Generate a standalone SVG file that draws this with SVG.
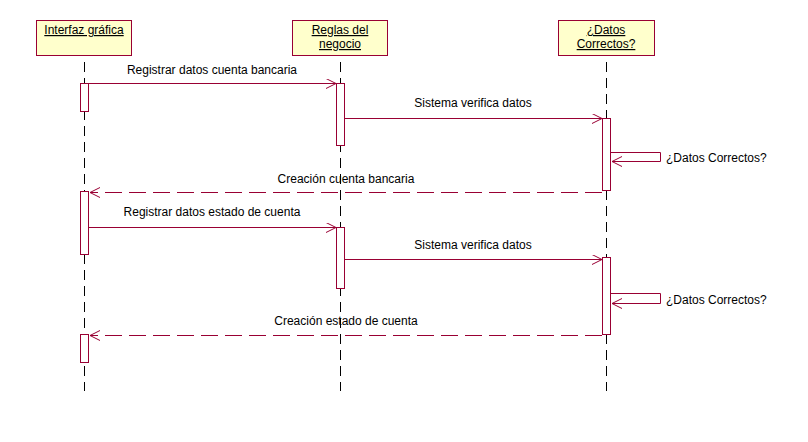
<svg xmlns="http://www.w3.org/2000/svg" width="808" height="442" viewBox="0 0 808 442">
<style>
  .box{fill:#FFFFCC;stroke:#990033;stroke-width:1}
  .title{font-family:"Liberation Sans",Arial,sans-serif;font-size:12px;fill:#000;text-anchor:middle;text-decoration:underline}
  .life{stroke:#000;stroke-width:1;stroke-dasharray:10 6;fill:none}
  .act{fill:#fff;stroke:#990033;stroke-width:1}
  .msg{stroke:#990033;stroke-width:1;fill:none}
  .ret{stroke:#990033;stroke-width:1;fill:none;stroke-dasharray:17 7}
  .lbl{font-family:"Liberation Sans",Arial,sans-serif;font-size:12px;fill:#000}
  .mid{text-anchor:middle}
</style>
<defs>
  <marker id="arr" markerWidth="12" markerHeight="12" refX="10" refY="5" orient="auto" markerUnits="userSpaceOnUse">
    <path d="M0,0 L10,5 L0,10" fill="none" stroke="#990033" stroke-width="1"/>
  </marker>
</defs>
<rect width="808" height="442" fill="#fff"/>

<g id="lifelines">
  <line class="life" x1="84.5" y1="62" x2="84.5" y2="391"/>
  <line class="life" x1="340.5" y1="62" x2="340.5" y2="391"/>
  <line class="life" x1="606.5" y1="62" x2="606.5" y2="391"/>
</g>

<g id="interfaz">
  <rect class="box" x="36.5" y="20.5" width="95" height="35"/>
  <text class="title" x="84" y="34">Interfaz gráfica</text>
</g>
<g id="reglas">
  <rect class="box" x="292.5" y="20.5" width="95" height="35"/>
  <text class="title" x="340" y="34">Reglas del</text>
  <text class="title" x="340" y="48">negocio</text>
</g>
<g id="datos">
  <rect class="box" x="558.5" y="20.5" width="96" height="35"/>
  <text class="title" x="606" y="34">¿Datos </text>
  <text class="title" x="606" y="48">Correctos?</text>
</g>

<g id="activations">
  <rect class="act" x="80.5" y="83.5" width="8" height="28"/>
  <rect class="act" x="336.5" y="83.5" width="8" height="62"/>
  <rect class="act" x="602.5" y="118.5" width="8" height="72"/>
  <rect class="act" x="80.5" y="191.5" width="8" height="63"/>
  <rect class="act" x="336.5" y="227.5" width="8" height="61"/>
  <rect class="act" x="602.5" y="257.5" width="8" height="77"/>
  <rect class="act" x="80.5" y="334.5" width="8" height="28"/>
</g>

<g id="connectors">
  <line class="msg" x1="89" y1="83.5" x2="336" y2="83.5" marker-end="url(#arr)"/>
  <line class="msg" x1="345" y1="118.5" x2="602" y2="118.5" marker-end="url(#arr)"/>
  <polyline class="msg" points="611,152.5 660.5,152.5 660.5,161.5 612,161.5" marker-end="url(#arr)"/>
  <line class="ret" x1="602" y1="192.5" x2="90" y2="192.5" marker-end="url(#arr)"/>
  <line class="msg" x1="89" y1="227.5" x2="336" y2="227.5" marker-end="url(#arr)"/>
  <line class="msg" x1="345" y1="259.5" x2="602" y2="259.5" marker-end="url(#arr)"/>
  <polyline class="msg" points="611,293.5 660.5,293.5 660.5,303.5 612,303.5" marker-end="url(#arr)"/>
  <line class="ret" x1="602" y1="335.5" x2="90" y2="335.5" marker-end="url(#arr)"/>
</g>

<g id="labels">
  <text class="lbl mid" x="212" y="74">Registrar datos cuenta bancaria</text>
  <text class="lbl mid" x="473" y="107">Sistema verifica datos</text>
  <text class="lbl" x="666" y="162">¿Datos Correctos?</text>
  <text class="lbl mid" x="346" y="183">Creación cuenta bancaria</text>
  <text class="lbl mid" x="212" y="216">Registrar datos estado de cuenta</text>
  <text class="lbl mid" x="473" y="249">Sistema verifica datos</text>
  <text class="lbl" x="666" y="304">¿Datos Correctos?</text>
  <text class="lbl mid" x="346" y="325">Creación estado de cuenta</text>
</g>
</svg>
